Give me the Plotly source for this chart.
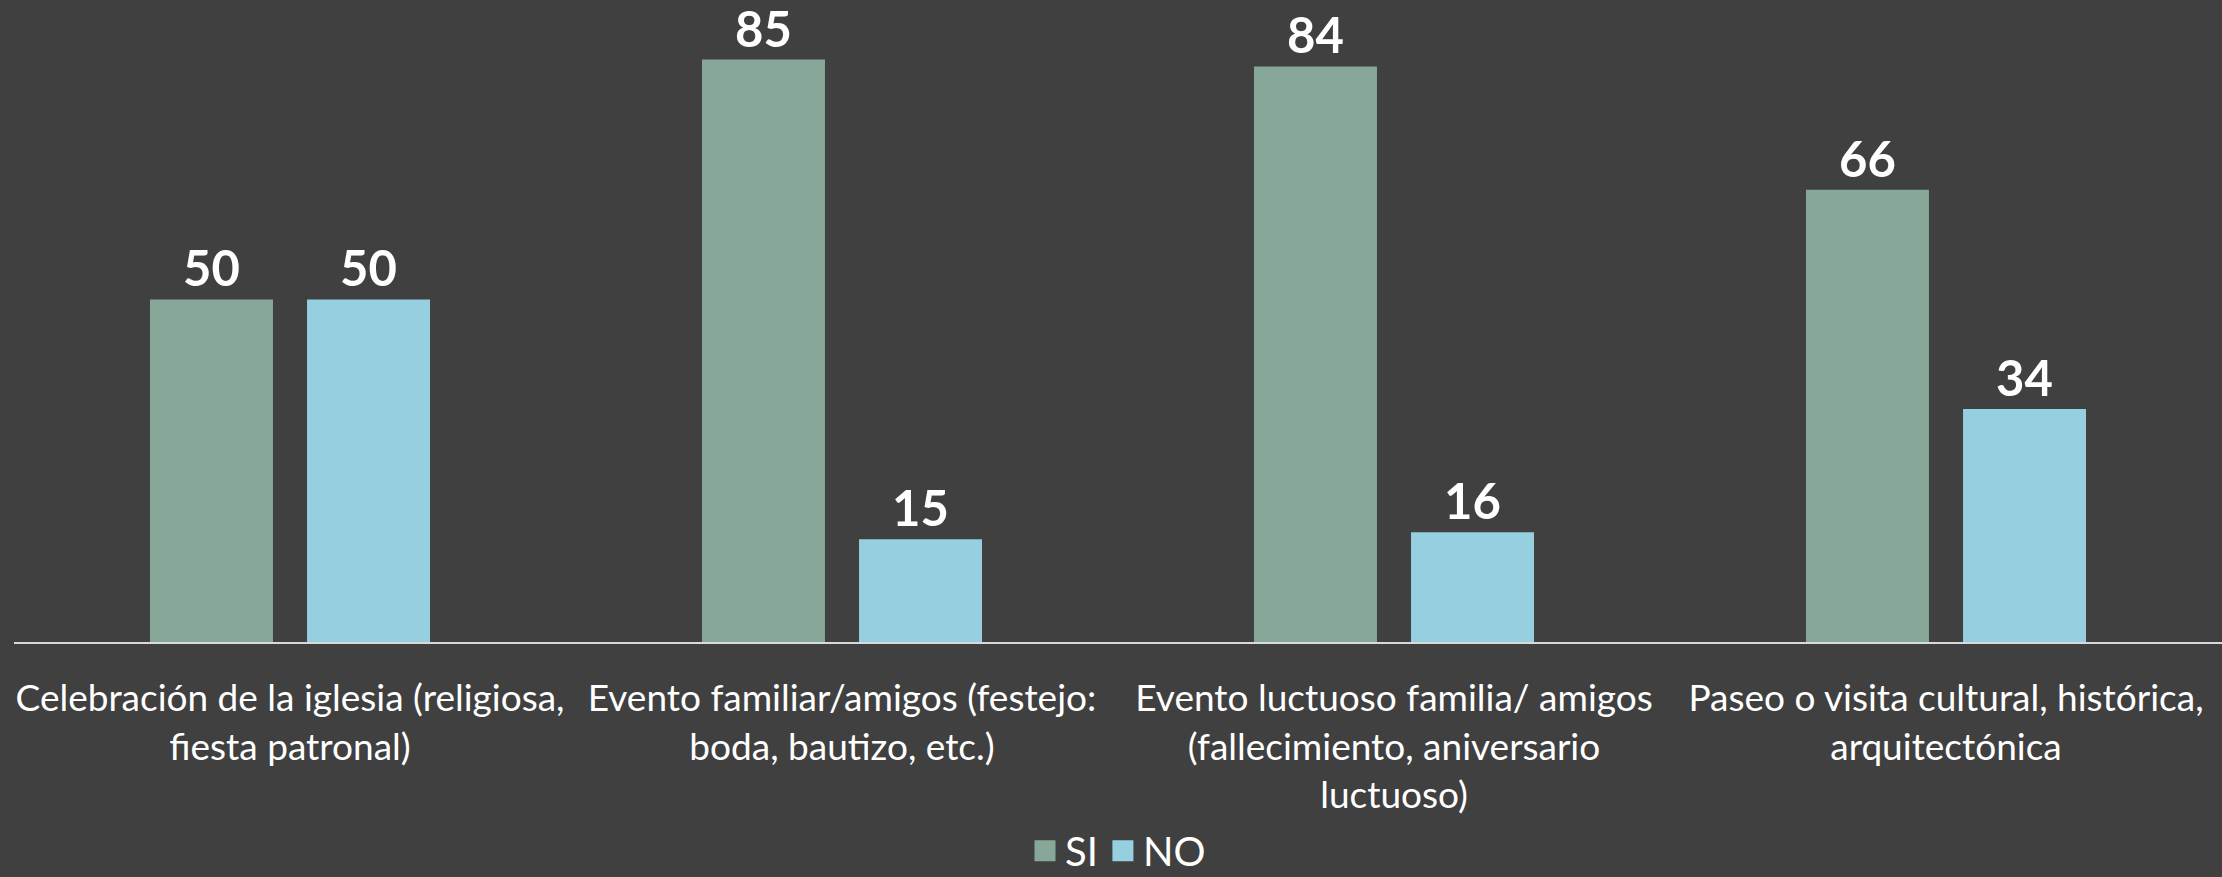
import plotly.graph_objects as go

categories = [
    "Celebración de la iglesia (religiosa,<br>fiesta patronal)",
    "Evento familiar/amigos (festejo:<br>boda, bautizo, etc.)",
    "Evento luctuoso familia/ amigos<br>(fallecimiento, aniversario<br>luctuoso)",
    "Paseo o visita cultural, histórica,<br>arquitectónica",
]
si_values = [50, 85, 84, 66]
no_values = [50, 15, 16, 34]

FONT = "Lato, 'Open Sans', sans-serif"
BG = "#404040"
SI_COLOR = "#87A898"
NO_COLOR = "#96CFE0"

fig = go.Figure()
for name, vals, col in [("SI", si_values, SI_COLOR), ("NO", no_values, NO_COLOR)]:
    fig.add_trace(go.Bar(
        name=name, x=categories, y=vals, marker_color=col,
        marker_line_width=0, showlegend=False,
        texttemplate="%{y}", textposition="outside", cliponaxis=False,
        textfont=dict(color="white", size=49, family=FONT, weight="bold"),
    ))
# legend entries (square swatches)
for name, col in [("SI", SI_COLOR), ("NO", NO_COLOR)]:
    fig.add_trace(go.Scatter(
        name=name, x=[None], y=[None], mode="markers",
        marker=dict(symbol="square", size=16, color=col, line=dict(color=col, width=5)),
        showlegend=True,
    ))

fig.update_layout(
    width=2222, height=877,
    paper_bgcolor=BG, plot_bgcolor=BG,
    margin=dict(l=14, r=0, t=0, b=235, autoexpand=False),
    barmode="group", bargap=0.431, bargroupgap=0.217,
    font=dict(family=FONT, color="white", size=37),
    showlegend=True,
    legend=dict(orientation="h", x=0.5, xanchor="center",
                yref="container", y=0.03, yanchor="middle",
                font=dict(size=40, color="white"), bgcolor="rgba(0,0,0,0)",
                itemsizing="trace", itemwidth=30, tracegroupgap=0),
)
fig.update_xaxes(
    showline=True, linecolor="#D9D9D9", linewidth=2,
    showgrid=False, zeroline=False, automargin=False,
    tickfont=dict(size=37, color="white", family=FONT),
    ticks="", ticklabelstandoff=23,
)
fig.update_yaxes(
    range=[0, 93.7], visible=False, showgrid=False, zeroline=False,
    automargin=False,
)

fig.write_html(
    "out.html",
    config={"displayModeBar": False},
    post_script="document.body.style.margin='0';document.body.style.overflow='hidden';",
)
